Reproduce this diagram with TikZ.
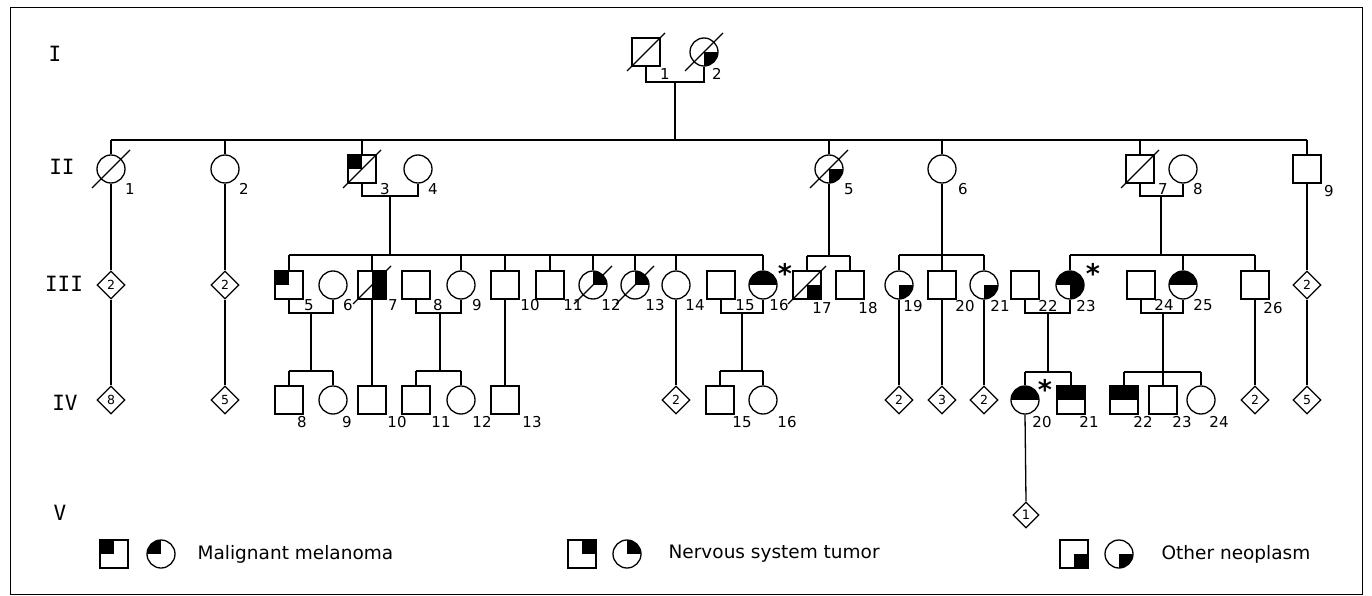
\documentclass[tikz,border=0pt]{standalone}
\usepackage{fontspec}
\setmainfont{DejaVu Sans}
\newfontfamily\romfont{DejaVu Sans Mono}
\usetikzlibrary{shapes.geometric}
\newcommand\deceased[1]{\draw ([shift={(-19,19)}]#1.center) -- ([shift={(19,-19)}]#1.center);}
\begin{document}
\begin{tikzpicture}[x=1pt,y=-1pt,line width=1.3pt,
 sym/.style={draw,inner sep=0pt,minimum size=28pt},
 sq/.style={sym,rectangle},
 ci/.style={sym,circle},
 dia/.style={draw,diamond,inner sep=0pt,minimum width=28pt,minimum height=28pt,font=\fontsize{12.5}{12.5}\selectfont},
 diaser/.style={dia,font=\rmfamily\fontsize{13}{13}\selectfont},
 lab/.style={inner sep=0pt,font=\fontsize{15}{15}\selectfont},
 gen/.style={inner sep=0pt,font=\romfont\fontsize{21}{21}\selectfont},
 leg/.style={inner sep=0pt,anchor=west,font=\fontsize{18.5}{18.5}\selectfont},
 star/.style={inner sep=0pt,font=\bfseries\fontsize{27}{27}\selectfont},
 fTL/.style={path picture={\fill (path picture bounding box.center) rectangle (path picture bounding box.north west);}},
 fTR/.style={path picture={\fill (path picture bounding box.center) rectangle (path picture bounding box.north east);}},
 fBR/.style={path picture={\fill (path picture bounding box.center) rectangle (path picture bounding box.south east);}},
 fTop/.style={path picture={\fill (path picture bounding box.west) rectangle (path picture bounding box.north east);}},
 fRight/.style={path picture={\fill (path picture bounding box.south) rectangle (path picture bounding box.north east);}},
 fThree/.style={path picture={\fill (path picture bounding box.west) rectangle (path picture bounding box.north east);
   \fill (path picture bounding box.center) rectangle (path picture bounding box.south east);}}
]
\useasboundingbox (0,0) rectangle (1372,596);
\draw[line width=1pt] (10,8) rectangle (1362,594.5);

% generation labels
\node[gen] (gI) at (55,54) {I};
\node[gen] (gII) at (62,167) {II};
\node[gen] (gIII) at (64,284) {III};
\node[gen] (gIV) at (65,403) {IV};
\node[gen] (gV) at (60,513) {V};

% ---------- Generation I
\node[sq] (I1) at (646,52) {};
\node[ci,fBR] (I2) at (704,52) {};
\deceased{I1}\deceased{I2}
\node[lab] (lI1) at (665,74) {1};
\node[lab] (lI2) at (717,74) {2};
\coordinate (mI) at (675,82);
\coordinate (sII) at (675,140);
\draw (I1.south) |- (mI) -| (I2.south);
\draw (mI) -- (sII);

% ---------- Generation II
\node[ci] (II1) at (111,169) {};
\node[ci] (II2) at (225,169) {};
\node[sq,fTL] (II3) at (362,169) {};
\node[ci] (II4) at (418,169) {};
\node[ci,fBR] (II5) at (829,169) {};
\node[ci] (II6) at (942,169) {};
\node[sq] (II7) at (1140,169) {};
\node[ci] (II8) at (1183,169) {};
\node[sq] (II9) at (1307,169) {};
\deceased{II1}\deceased{II3}\deceased{II5}\deceased{II7}
\draw (II1.north |- sII) -- (II9.north |- sII);
\foreach \n in {II1,II2,II3,II5,II6,II7,II9} \draw (\n.north) -- (\n.north |- sII);
\node[lab] (lII1) at (130,189) {1};
\node[lab] (lII2) at (244,189) {2};
\node[lab] (lII3) at (385,189) {3};
\node[lab] (lII4) at (433,189) {4};
\node[lab] (lII5) at (849,189) {5};
\node[lab] (lII6) at (963,189) {6};
\node[lab] (lII7) at (1163,189) {7};
\node[lab] (lII8) at (1198,189) {8};
\node[lab] (lII9) at (1329,191) {9};

\coordinate (mII34) at (390,196);
\coordinate (sIIIa) at (390,255);
\draw (II3.south) |- (mII34) -| (II4.south);
\draw (mII34) -- (sIIIa);
\coordinate (mII78) at (1161,196);
\coordinate (sIIId) at (1161,255);
\draw (II7.south) |- (mII78) -| (II8.south);
\draw (mII78) -- (sIIId);
\coordinate (sIIIb) at (829,256);
\draw (II5.south) -- (sIIIb);
\coordinate (sIIIc) at (942,255);
\draw (II6.south) -- (sIIIc);

% ---------- Generation III
\node[dia] (IIId1) at (111,285) {2};
\node[dia] (IIId2) at (225,285) {2};
\node[sq,fTL] (III5) at (289,285) {};
\node[ci] (III6) at (333,285) {};
\node[sq,fRight] (III7) at (372,285) {};
\node[sq] (III8) at (416,285) {};
\node[ci] (III9) at (461,285) {};
\node[sq] (III10) at (505,285) {};
\node[sq] (III11) at (550,285) {};
\node[ci,fTR] (III12) at (593,285) {};
\node[ci,fTR] (III13) at (635,285) {};
\node[ci] (III14) at (676,285) {};
\node[sq] (III15) at (721,285) {};
\node[ci,fTop] (III16) at (763,285) {};
\node[sq,fBR] (III17) at (807,285) {};
\node[sq] (III18) at (850,285) {};
\node[ci,fBR] (III19) at (899,285) {};
\node[sq] (III20) at (942,285) {};
\node[ci,fBR] (III21) at (984,285) {};
\node[sq] (III22) at (1025,285) {};
\node[ci,fThree] (III23) at (1070,285) {};
\node[sq] (III24) at (1141,285) {};
\node[ci,fTop] (III25) at (1183,285) {};
\node[sq] (III26) at (1255,285) {};
\node[dia] (IIId3) at (1307,285) {2};
\deceased{III7}\deceased{III12}\deceased{III13}\deceased{III17}

\draw (II1.south) -- (IIId1.north);
\draw (II2.south) -- (IIId2.north);
\draw (II9.south) -- (IIId3.north);
\draw (III5.north |- sIIIa) -- (III16.north |- sIIIa);
\foreach \n in {III5,III7,III9,III10,III11,III12,III13,III14,III16} \draw (\n.north) -- (\n.north |- sIIIa);
\draw (III17.north |- sIIIb) -- (III18.north |- sIIIb);
\foreach \n in {III17,III18} \draw (\n.north) -- (\n.north |- sIIIb);
\draw (III19.north |- sIIIc) -- (III21.north |- sIIIc);
\foreach \n in {III19,III20,III21} \draw (\n.north) -- (\n.north |- sIIIc);
\draw (III23.north |- sIIId) -- (III26.north |- sIIId);
\foreach \n in {III23,III25,III26} \draw (\n.north) -- (\n.north |- sIIId);

\node[lab] (lIII5) at (309,305) {5};
\node[lab] (lIII6) at (348,305) {6};
\node[lab] (lIII7) at (393,305) {7};
\node[lab] (lIII8) at (438,305) {8};
\node[lab] (lIII9) at (477,305) {9};
\node[lab] (lIII10) at (530,305) {10};
\node[lab] (lIII11) at (573,305) {11};
\node[lab] (lIII12) at (611,305) {12};
\node[lab] (lIII13) at (655,305) {13};
\node[lab] (lIII14) at (695,305) {14};
\node[lab] (lIII15) at (745,305) {15};
\node[lab] (lIII16) at (779,305) {16};
\node[lab] (lIII17) at (822,308) {17};
\node[lab] (lIII18) at (868,308) {18};
\node[lab] (lIII19) at (913,306) {19};
\node[lab] (lIII20) at (965,306) {20};
\node[lab] (lIII21) at (1000,306) {21};
\node[lab] (lIII22) at (1048,306) {22};
\node[lab] (lIII23) at (1086,306) {23};
\node[lab] (lIII24) at (1164,305) {24};
\node[lab] (lIII25) at (1203,305) {25};
\node[lab] (lIII26) at (1273,308) {26};
\node[star] (st1) at (785,273) {*};
\node[star] (st2) at (1093,273) {*};

% marriages in III
\coordinate (mIII56) at (311,313);
\coordinate (sIVa) at (311,371);
\draw (III5.south) |- (mIII56) -| (III6.south);
\draw (mIII56) -- (sIVa);
\coordinate (mIII89) at (440,313);
\coordinate (sIVb) at (440,371);
\draw (III8.south) |- (mIII89) -| (III9.south);
\draw (mIII89) -- (sIVb);
\coordinate (mIII1516) at (742,313);
\coordinate (sIVc) at (742,371);
\draw (III15.south) |- (mIII1516) -| (III16.south);
\draw (mIII1516) -- (sIVc);
\coordinate (mIII2223) at (1048,313);
\coordinate (sIVd) at (1048,372);
\draw (III22.south) |- (mIII2223) -| (III23.south);
\draw (mIII2223) -- (sIVd);
\coordinate (mIII2425) at (1163,313);
\coordinate (sIVe) at (1163,372);
\draw (III24.south) |- (mIII2425) -| (III25.south);
\draw (mIII2425) -- (sIVe);

% ---------- Generation IV
\node[dia] (IVd1) at (111,400) {8};
\node[dia] (IVd2) at (225,400) {5};
\node[sq] (IV8) at (289,400) {};
\node[ci] (IV9) at (333,400) {};
\node[sq] (IV10) at (372,400) {};
\node[sq] (IV11) at (416,400) {};
\node[ci] (IV12) at (461,400) {};
\node[sq] (IV13) at (505,400) {};
\node[dia] (IVd3) at (676,400) {2};
\node[sq] (IV15) at (720,400) {};
\node[ci] (IV16) at (763,400) {};
\node[dia] (IVd4) at (899,400) {2};
\node[dia] (IVd5) at (942,400) {3};
\node[dia] (IVd6) at (984,400) {2};
\node[ci,fTop] (IV20) at (1025,400) {};
\node[sq,fTop] (IV21) at (1071,400) {};
\node[sq,fTop] (IV22) at (1124,400) {};
\node[sq] (IV23) at (1163,400) {};
\node[ci] (IV24) at (1201,400) {};
\node[dia] (IVd7) at (1255,400) {2};
\node[dia] (IVd8) at (1307,400) {5};

\draw (IIId1.south) -- (IVd1.north);
\draw (IIId2.south) -- (IVd2.north);
\draw (IIId3.south) -- (IVd8.north);
\draw (III7.south) -- (IV10.north);
\draw (III10.south) -- (IV13.north);
\draw (III14.south) -- (IVd3.north);
\draw (III19.south) -- (IVd4.north);
\draw (III20.south) -- (IVd5.north);
\draw (III21.south) -- (IVd6.north);
\draw (III26.south) -- (IVd7.north);
\draw (IV8.north |- sIVa) -- (IV9.north |- sIVa);
\foreach \n in {IV8,IV9} \draw (\n.north) -- (\n.north |- sIVa);
\draw (IV11.north |- sIVb) -- (IV12.north |- sIVb);
\foreach \n in {IV11,IV12} \draw (\n.north) -- (\n.north |- sIVb);
\draw (IV15.north |- sIVc) -- (IV16.north |- sIVc);
\foreach \n in {IV15,IV16} \draw (\n.north) -- (\n.north |- sIVc);
\draw (IV20.north |- sIVd) -- (IV21.north |- sIVd);
\foreach \n in {IV20,IV21} \draw (\n.north) -- (\n.north |- sIVd);
\draw (IV22.north |- sIVe) -- (IV24.north |- sIVe);
\foreach \n in {IV22,IV23,IV24} \draw (\n.north) -- (\n.north |- sIVe);

\node[lab] (lIV8) at (302,422) {8};
\node[lab] (lIV9) at (347,422) {9};
\node[lab] (lIV10) at (397,422) {10};
\node[lab] (lIV11) at (441,422) {11};
\node[lab] (lIV12) at (482,422) {12};
\node[lab] (lIV13) at (532,422) {13};
\node[lab] (lIV15) at (742,422) {15};
\node[lab] (lIV16) at (787,422) {16};
\node[lab] (lIV20) at (1042,422) {20};
\node[lab] (lIV21) at (1089,422) {21};
\node[lab] (lIV22) at (1143,422) {22};
\node[lab] (lIV23) at (1182,422) {23};
\node[lab] (lIV24) at (1219,422) {24};
\node[star] (st3) at (1045,389) {*};

% ---------- Generation V
\node[diaser,minimum width=26pt,minimum height=26pt] (V1) at (1026,515) {1};
\draw (IV20.south) -- (V1.north);

% ---------- legend
\node[sq,fTL] (L1s) at (114,554) {};
\node[ci,fTL] (L1c) at (161,554) {};
\node[leg] (L1t) at (197,554) {Malignant melanoma};
\node[sq,fTR] (L2s) at (582,554) {};
\node[ci,fTR] (L2c) at (627,554) {};
\node[leg] (L2t) at (668,554) {Nervous system tumor};
\node[sq,fBR] (L3s) at (1074,554) {};
\node[ci,fBR] (L3c) at (1119,554) {};
\node[leg] (L3t) at (1161,554) {Other neoplasm};
\end{tikzpicture}
\end{document}
